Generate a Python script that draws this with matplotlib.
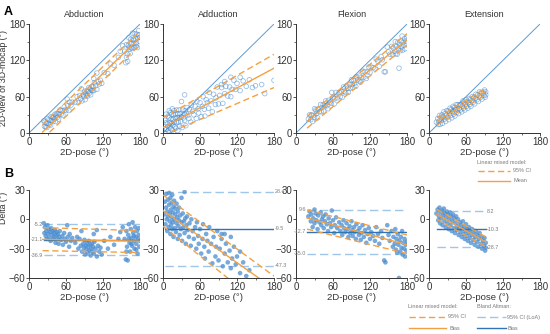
import numpy as np
import matplotlib
matplotlib.use("Agg")
import matplotlib.pyplot as plt
from matplotlib.lines import Line2D
from matplotlib.ticker import MultipleLocator

plt.rcParams["font.family"] = ["Liberation Sans", "DejaVu Sans"]

# ---------- Colours ----------
BLUE_PT = "#4a8dd0"
BLUE_ID = "#5b9bd5"
BLUE_BIAS = "#2f75b5"
BLUE_LOA = "#9fc5e8"
ORANGE = "#f5a040"
GREY_TXT = "#7a7a7a"

MOVES = ["Abduction", "Adduction", "Flexion", "Extension"]

# ---------- Data: 2D-pose angle (deg) and delta = 3D-mocap - 2D-pose (deg) ----------
abd_pose = [24, 25, 26, 27, 28, 29, 30, 31, 32, 33, 34, 35, 36, 37, 38, 39, 40, 41, 42, 43,
            44, 45, 46, 47, 48, 49, 50, 52, 54, 55, 57, 58, 60, 62, 63, 65, 66, 68, 70, 75,
            78, 80, 82, 84, 85, 86, 88, 89, 90, 91, 92, 93, 94, 95, 96, 97, 98, 99, 100, 101,
            102, 103, 104, 105, 106, 108, 110, 112, 114, 116, 118, 105, 110, 122, 128, 132, 138, 145, 148, 152,
            155, 157, 158, 159, 160, 161, 162, 163, 164, 165, 166, 167, 168, 169, 170, 171, 172, 173, 174, 175,
            176, 177, 178, 179, 180, 178, 174, 170, 166, 162, 158]
abd_delta = [-4, -14, -8, -17, -12, -20, -6, -15, -10, -19, -13, -22, -9, -16, -12, -20, -14, -18, -11, -24,
             -16, -13, -20, -15, -25, -18, -12, -21, -17, -26, -14, -20, -23, -6, -18, -28, -15, -22, -19, -24,
             -18, -30, -20, -27, -12, -33, -25, -29, -21, -36, -27, -31, -24, -34, -28, -22, -32, -26, -37, -30,
             -25, -33, -28, -35, -23, -30, -38, -27, -33, -29, -36, -15, -11, -22, -30, -18, -26, -20, -13, -8,
             -20, -41, -12, -28, -42, -16, -5, -24, -33, -10, -19, -27, -3, -14, -22, -30, -8, -18, -25, -12,
             -35, -20, -16, -28, -22, -9, -31, -17, -25, -20, -33]

add_pose = [2, 3, 4, 5, 5, 6, 7, 7, 8, 8, 9, 10, 10, 11, 11, 12, 12, 13, 13, 14,
            14, 15, 15, 16, 16, 17, 17, 18, 18, 19, 20, 20, 21, 22, 22, 23, 24, 24, 25, 26,
            26, 27, 28, 29, 30, 30, 31, 32, 33, 34, 35, 35, 36, 37, 38, 39, 40, 42, 43, 45,
            46, 48, 50, 52, 54, 55, 57, 58, 60, 62, 64, 65, 67, 68, 70, 72, 74, 75, 78, 80,
            82, 85, 86, 88, 90, 92, 95, 97, 100, 102, 105, 108, 110, 112, 115, 118, 120, 125, 130, 135,
            140, 150, 165, 180, 160, 145, 125, 110, 100, 95]
add_delta = [5, 18, -5, 12, 26, 0, 8, -12, 20, 3, -8, 15, 27, -2, 6, -15, 22, 10, -6, 2,
             17, -10, 25, 7, -3, 13, -18, 0, 19, -9, 5, 11, -13, -4, 16, 2, -20, 8, -7, 12,
             -1, -16, 4, -10, -3, 22, -22, 6, -8, -2, 28, -14, 1, -25, -6, 3, -11, -18, -4, -27,
             0, -12, -20, -8, -30, -3, -17, -25, -10, -35, -20, -5, -28, -40, -15, -22, -33, -8, -25, -45,
             -18, -38, -28, -12, -42, -30, -20, -48, -35, -25, -44, -32, -50, -40, -28, -46, -38, -55, -44, -58,
             -52, -72, -100, -93, -80, -70, -33, -18, -15, -15]

flx_pose = [20, 22, 24, 25, 27, 28, 30, 30, 32, 33, 35, 36, 38, 40, 41, 42, 44, 45, 47, 48,
            50, 52, 53, 55, 57, 58, 60, 62, 63, 65, 67, 70, 72, 74, 75, 77, 78, 80, 82, 84,
            85, 87, 88, 90, 91, 92, 94, 95, 97, 98, 100, 102, 103, 105, 106, 108, 110, 112, 114, 116,
            118, 120, 122, 125, 128, 130, 133, 135, 138, 140, 143, 145, 148, 150, 152, 155, 157, 158, 160, 161,
            162, 163, 164, 165, 166, 167, 168, 169, 170, 171, 172, 173, 174, 175, 176, 177, 178, 179, 180]
flx_delta = [3, 8, -2, 5, -8, 1, 10, -4, 6, -1, -10, 4, -3, 7, -6, 0, 3, -9, -2, 5,
             -5, -12, 1, -4, -8, 9, -1, -14, -6, 2, -9, -3, -12, -6, -16, -1, -9, -13, -4, -10,
             -18, -7, -14, -2, -11, -17, -8, -13, -20, -5, -12, -16, -9, -21, -14, -6, -18, -11, -24, -15,
             -9, -20, -13, -17, -22, -8, -15, -25, -12, -19, -42, -44, -6, -16, -22, -12, -28, -18, -25, -10,
             -31, -20, -34, -15, -26, -60, -22, -33, -18, -29, -12, -36, -24, -30, -20, -38, -26, -32, -23]

ext_pose = [12, 14, 15, 16, 17, 18, 19, 20, 21, 22, 23, 24, 25, 26, 27, 28, 29, 30, 31, 32,
            33, 34, 35, 36, 37, 38, 39, 40, 41, 42, 43, 44, 45, 46, 47, 48, 49, 50, 51, 52,
            53, 54, 55, 56, 57, 58, 59, 60, 61, 62, 63, 64, 65, 66, 67, 68, 69, 70, 72, 73,
            74, 75, 76, 78, 79, 80, 81, 82, 84, 85, 86, 88, 89, 90, 91, 92, 92]
ext_delta = [6, 10, -1, 3, 12, -4, 7, 1, 9, -6, 4, 11, -2, 6, -8, 2, 8, -4, 5, -10,
             0, 7, -6, 3, -12, -2, 5, -9, 1, -14, -4, 3, -11, -7, 0, -16, -9, -3, -13, -6,
             -18, -10, -2, -15, -8, -20, -12, -5, -17, -10, -22, -14, -8, -19, -12, -24, -16, -10, -21, -14,
             -26, -18, -12, -23, -16, -28, -20, -14, -25, -18, -30, -22, -27, -19, -32, -24, -29]

POSE = [abd_pose, add_pose, flx_pose, ext_pose]
DELTA = [abd_delta, add_delta, flx_delta, ext_delta]

# ---------- Linear mixed model fits (values at start / end of x range) ----------
lmm_x = [(22, 180), (0, 180), (18, 180), (13, 92)]
# panel A (3D-mocap scale)
fitA_mean = [(1.5, 157.7), (9, 107), (19.4, 154), (19, 69)]
fitA_hi = [(13.5, 168.5), (25, 130), (27.5, 164), (25, 74)]
fitA_lo = [(-10, 146), (-4, 75), (8, 145), (13, 63)]
# panel B (delta scale)
fitB_mean = [(-20.5, -22.3), (9, -71), (1.4, -26), (5, -23)]
fitB_hi = [(-8.5, -11.5), (25, -58), (9.5, -16), (10, -18)]
fitB_lo = [(-32, -34), (-7, -98), (-10, -35), (0, -28)]

# ---------- Bland-Altman ----------
ba_x = [(24, 180), (3, 180), (18, 180), (13, 92)]
ba_bias = [-21.1, -9.5, -12.7, -10.3]
ba_upper = [-5.2, 28.4, 9.6, 8.2]
ba_lower = [-36.9, -47.3, -35.0, -28.7]
ba_label_side = ["left", "right", "left", "right"]

# ---------- Figure ----------
W, H = 550, 334
fig = plt.figure(figsize=(W / 100, H / 100), dpi=100)

LEFTS = [29, 163, 296, 429]
AX_W = 111
DASH = (0, (4.5, 2.5))
DASH_LOA = (0, (6, 3))
TXT = "#333333"


def px_rect(left, top, w, h):
    return [left / W, 1 - (top + h) / H, w / W, h / H]


def style_axes(ax):
    for s in ("top", "right"):
        ax.spines[s].set_visible(False)
    for s in ("left", "bottom"):
        ax.spines[s].set_linewidth(0.7)
        ax.spines[s].set_color(TXT)
    ax.tick_params(which="major", length=2.0, width=0.6, labelsize=7,
                   colors=TXT, pad=0.8)
    ax.tick_params(which="minor", length=1.3, width=0.5, colors=TXT)
    ax.xaxis.set_major_locator(MultipleLocator(60))
    ax.xaxis.set_minor_locator(MultipleLocator(30))
    ax.set_xlim(0, 180)
    ax.set_xlabel("2D-pose (°)", fontsize=6.8, labelpad=0.8, color=TXT)


axA, axB = [], []
for i, move in enumerate(MOVES):
    x = np.array(POSE[i], dtype=float)
    d = np.array(DELTA[i], dtype=float)
    y = x + d
    x0, x1 = lmm_x[i]
    xs = np.array([x0, x1])

    # ----- A: agreement -----
    ax = fig.add_axes(px_rect(LEFTS[i], 24, AX_W, 109))
    style_axes(ax)
    ax.set_ylim(0, 180)
    ax.yaxis.set_major_locator(MultipleLocator(60))
    ax.yaxis.set_minor_locator(MultipleLocator(30))
    ax.plot([0, 180], [0, 180], color=BLUE_ID, lw=0.7, zorder=1)
    ax.scatter(x, y, s=11, facecolors="none", edgecolors=BLUE_PT,
               linewidths=0.55, alpha=0.6, zorder=2)
    ax.plot(xs, fitA_mean[i], color=ORANGE, lw=1.0, zorder=3)
    ax.plot(xs, fitA_hi[i], color=ORANGE, lw=1.0, ls=DASH, zorder=3)
    ax.plot(xs, fitA_lo[i], color=ORANGE, lw=1.0, ls=DASH, zorder=3)
    ax.set_title(move, fontsize=6.5, pad=5, color=TXT)
    axA.append(ax)

    # ----- B: Bland-Altman -----
    ax = fig.add_axes(px_rect(LEFTS[i], 190, AX_W, 88))
    style_axes(ax)
    ax.set_ylim(-60, 30)
    ax.yaxis.set_major_locator(MultipleLocator(30))
    ax.scatter(x, d, s=11, color=BLUE_PT, edgecolors="none", alpha=0.75, zorder=2)
    bx0, bx1 = ba_x[i]
    ax.plot([bx0, bx1], [ba_upper[i]] * 2, color=BLUE_LOA, lw=1.0, ls=DASH_LOA, zorder=1)
    ax.plot([bx0, bx1], [ba_lower[i]] * 2, color=BLUE_LOA, lw=1.0, ls=DASH_LOA, zorder=1)
    ax.plot([bx0, bx1], [ba_bias[i]] * 2, color=BLUE_BIAS, lw=1.0, zorder=3)
    ax.plot(xs, fitB_mean[i], color=ORANGE, lw=1.0, zorder=4)
    ax.plot(xs, fitB_hi[i], color=ORANGE, lw=1.0, ls=DASH, zorder=4)
    ax.plot(xs, fitB_lo[i], color=ORANGE, lw=1.0, ls=DASH, zorder=4)
    for val in (ba_upper[i], ba_bias[i], ba_lower[i]):
        if ba_label_side[i] == "left":
            tx, ha = bx0 - 1.5, "right"
        else:
            tx, ha = bx1 + 1.2, "left"
        ax.text(tx, val, f"{val:.1f}", fontsize=3.9, color=GREY_TXT,
                ha=ha, va="center", clip_on=False, zorder=5)
    axB.append(ax)

axA[0].set_ylabel("2D-view of 3D-mocap (°)", fontsize=6.3, color=TXT)
axA[0].yaxis.set_label_coords(-0.19, 0.5)
axB[0].set_ylabel("Delta (°)", fontsize=6.3, color=TXT)
axB[0].yaxis.set_label_coords(-0.19, 0.8)

fig.text(4 / W, 1 - 12 / H, "A", fontsize=9, fontweight="bold", va="center")
fig.text(4 / W, 1 - 174 / H, "B", fontsize=9, fontweight="bold", va="center")


# ---------- Manual legends (pixel placement) ----------
def fx(px):
    return px / W


def fy(py):
    return 1 - py / H


def swatch(x0, x1, ypx, color, ls):
    fig.add_artist(Line2D([fx(x0), fx(x1)], [fy(ypx)] * 2, transform=fig.transFigure,
                          color=color, lw=1.0, ls=ls))


def leg_text(xpx, ypx, s):
    fig.text(fx(xpx), fy(ypx), s, fontsize=4.0, color=GREY_TXT, va="center", ha="left")


# legend for A
leg_text(477, 163, "Linear mixed model:")
swatch(478, 510, 171, ORANGE, DASH)
leg_text(513, 171, "95% CI")
swatch(478, 510, 181, ORANGE, "-")
leg_text(514, 181, "Mean")

# legend for B
leg_text(408, 306, "Linear mixed model:")
swatch(409, 446, 317, ORANGE, DASH)
leg_text(448, 317, "95% CI")
swatch(409, 446, 328, ORANGE, "-")
leg_text(449, 328, "Bias")
leg_text(477, 306, "Bland Altman:")
swatch(477, 506, 317, BLUE_LOA, DASH_LOA)
leg_text(507, 317, "95% CI (LoA)")
swatch(477, 506, 328, BLUE_BIAS, "-")
leg_text(508, 328, "Bias")

fig.savefig("out.png", dpi=100)
